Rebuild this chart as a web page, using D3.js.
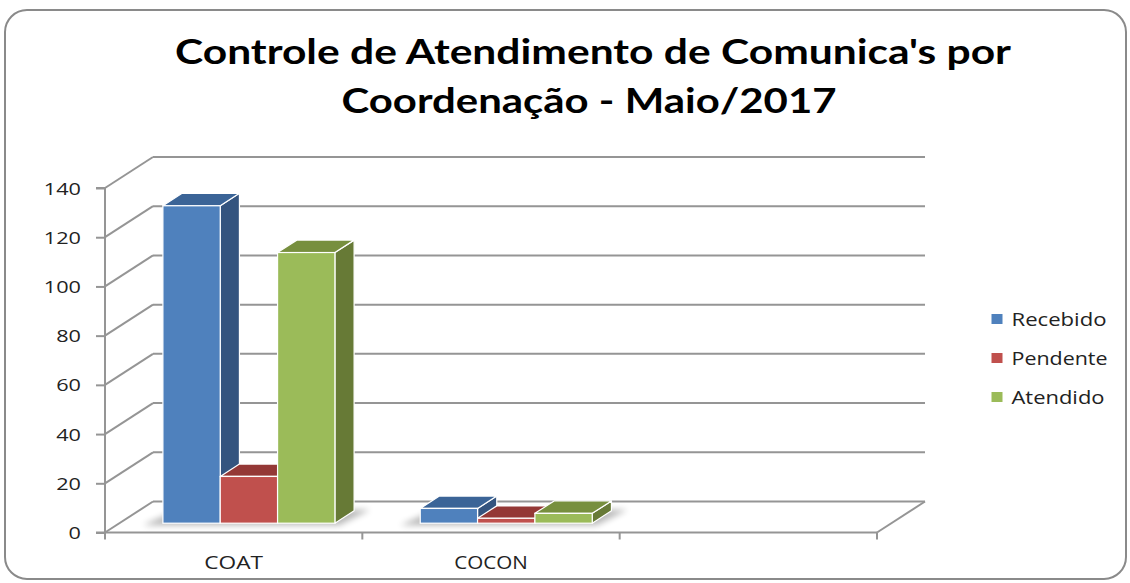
<!DOCTYPE html>
<html>
<head>
<meta charset="utf-8">
<script src="https://cdn.jsdelivr.net/npm/d3@7/dist/d3.min.js"></script>
<style>
  html, body { margin: 0; padding: 0; background: #fff; }
  svg { display: block; }
  text { font-family: "Open Sans", "Noto Sans", sans-serif; }
</style>
</head>
<body>
<svg id="chart" width="1130" height="583"></svg>
<script>
// ---- data ----
const titleLines = ["Controle de Atendimento de Comunica's por", "Coordenação - Maio/2017"];
const categories = ["COAT", "COCON", ""];
const seriesNames = ["Recebido", "Pendente", "Atendido"];
const recebido = [129, 6, null];
const pendente = [19, 2, null];
const atendido = [110, 4, null];
const yTicks = [0, 20, 40, 60, 80, 100, 120, 140];

// ---- styles ----
const faceColors = ["#4F81BD", "#C0504D", "#9BBB59"];
const topColors  = ["#3B6497", "#943836", "#778F3E"];
const sideColors = ["#34547F", "#8A3533", "#677A36"];
const gridColor = "#959595";

const seriesValues = [recebido, pendente, atendido];

const svg = d3.select("#chart");

// blur filter for floor shadows
const defs = svg.append("defs");
const flt = defs.append("filter").attr("id", "shadow").attr("x", "-20%").attr("y", "-50%").attr("width", "140%").attr("height", "200%");
flt.append("feGaussianBlur").attr("stdDeviation", 3);

// frame
svg.append("rect").attr("x", 5).attr("y", 10).attr("width", 1121).attr("height", 569)
  .attr("rx", 22).attr("ry", 22).attr("fill", "#fff").attr("stroke", "#8a8a8a").attr("stroke-width", 2);

// title
svg.append("text").attr("x", 593).attr("y", 64).attr("text-anchor", "middle")
  .attr("font-size", 34).attr("font-weight", 700).attr("fill", "#000")
  .style("font-family", "Lato, 'Open Sans', sans-serif")
  .attr("textLength", 836).attr("lengthAdjust", "spacingAndGlyphs").text(titleLines[0]);
svg.append("text").attr("x", 589).attr("y", 112.5).attr("text-anchor", "middle")
  .attr("font-size", 34).attr("font-weight", 700).attr("fill", "#000")
  .style("font-family", "Lato, 'Open Sans', sans-serif")
  .attr("textLength", 495).attr("lengthAdjust", "spacingAndGlyphs").text(titleLines[1]);

// ---- scales ----
const x0 = 105, x1 = 877;
const x = d3.scaleBand().domain(categories).range([x0, x1]).padding(0);
const y = d3.scaleLinear().domain([0, 140]).range([532.5, 188]);
const depth = { dx: 48, dy: -31 };
const f0 = 0.3, f1 = 0.7; // bar depth fraction range
const inner = d3.scaleBand().domain(seriesNames).range([43.5, 215.5]).padding(0);

// back wall gridlines
svg.append("g").selectAll("line").data(yTicks).join("line")
  .attr("x1", x0 + depth.dx).attr("x2", x1 + depth.dx)
  .attr("y1", d => y(d) + depth.dy).attr("y2", d => y(d) + depth.dy)
  .attr("stroke", gridColor).attr("stroke-width", 2);

// side wall diagonals
svg.append("g").selectAll("line").data(yTicks).join("line")
  .attr("x1", x0).attr("x2", x0 + depth.dx)
  .attr("y1", d => y(d)).attr("y2", d => y(d) + depth.dy)
  .attr("stroke", gridColor).attr("stroke-width", 2);

// floor right edge
svg.append("line").attr("x1", x1).attr("y1", y(0)).attr("x2", x1 + depth.dx).attr("y2", y(0) + depth.dy)
  .attr("stroke", gridColor).attr("stroke-width", 2);

// y axis
const yAxis = d3.axisLeft(y).tickValues(yTicks).tickSize(9).tickPadding(15);
const gy = svg.append("g").attr("transform", `translate(${x0},0)`).call(yAxis);
gy.select(".domain").attr("stroke", gridColor).attr("stroke-width", 2).attr("d", `M-9,${y(140)}H0V${y(0)}H-9`);
gy.selectAll(".tick line").attr("stroke", gridColor).attr("stroke-width", 2);
gy.selectAll(".tick text").attr("font-size", 17).attr("fill", "#222")
  .attr("dy", "0.36em")
  .attr("textLength", d => String(d).length * 12.4).attr("lengthAdjust", "spacingAndGlyphs");

// x axis line and ticks at band boundaries
const boundaries = categories.map(c => x(c)).concat([x1]);
svg.append("line").attr("x1", x0).attr("x2", x1).attr("y1", y(0)).attr("y2", y(0))
  .attr("stroke", gridColor).attr("stroke-width", 2);
svg.append("g").selectAll("line").data(boundaries).join("line")
  .attr("x1", d => d).attr("x2", d => d).attr("y1", y(0)).attr("y2", y(0) + 7)
  .attr("stroke", gridColor).attr("stroke-width", 2);

// category labels
svg.append("g").selectAll("text").data(categories.filter(c => c !== "")).join("text")
  .attr("x", d => x(d) + x.bandwidth() / 2).attr("y", 568.5)
  .attr("text-anchor", "middle").attr("font-size", 17.5).attr("fill", "#222")
  .attr("textLength", d => d.length * 14.7).attr("lengthAdjust", "spacingAndGlyphs")
  .text(d => d);

// ---- bars ----
const offX0 = f0 * depth.dx, offY0 = f0 * depth.dy;
const ddx = (f1 - f0) * depth.dx, ddy = (f1 - f0) * depth.dy;
const bw = inner.bandwidth();

// floor shadows under each group
categories.forEach((c, ci) => {
  const has = seriesValues.some(s => s[ci] != null);
  if (!has) return;
  const gx0 = x(c) + inner.range()[0] + offX0;
  const gx1 = x(c) + inner.range()[1] + offX0;
  const yb = y(0) + offY0;
  const pts = [[gx0 - 20, yb + 2], [gx1 + 4, yb + 2], [gx1 + ddx + 16, yb + ddy - 1], [gx0 + ddx - 4, yb + ddy - 1]];
  svg.append("polygon").attr("points", pts.map(p => p.join(",")).join(" "))
    .attr("fill", "#000").attr("opacity", 0.28).attr("filter", "url(#shadow)");
});

const barsG = svg.append("g");
categories.forEach((c, ci) => {
  seriesNames.forEach((s, si) => {
    const v = seriesValues[si][ci];
    if (v == null) return;
    const bx = x(c) + inner(s) + offX0;
    const top = y(v) + offY0;
    const bot = y(0) + offY0;
    const g = barsG.append("g");
    g.append("polygon")
      .attr("points", [[bx + bw, top], [bx + bw + ddx, top + ddy], [bx + bw + ddx, bot + ddy], [bx + bw, bot]].map(p => p.join(",")).join(" "))
      .attr("fill", sideColors[si]).attr("stroke", "#fff").attr("stroke-width", 1.2).attr("stroke-linejoin", "round");
    g.append("polygon")
      .attr("points", [[bx, top], [bx + bw, top], [bx + bw + ddx, top + ddy], [bx + ddx, top + ddy]].map(p => p.join(",")).join(" "))
      .attr("fill", topColors[si]).attr("stroke", "#fff").attr("stroke-width", 1.2).attr("stroke-linejoin", "round");
    g.append("rect").attr("x", bx).attr("y", top).attr("width", bw).attr("height", bot - top)
      .attr("fill", faceColors[si]).attr("stroke", "#fff").attr("stroke-width", 1.2);
  });
});

// ---- legend ----
const legend = svg.append("g");
const legendY = d3.scalePoint().domain(seriesNames).range([326, 404]);
const legendW = [95, 96, 93];
seriesNames.forEach((s, i) => {
  legend.append("rect").attr("x", 991.5).attr("y", legendY(s) - 12).attr("width", 11).attr("height", 10)
    .attr("fill", faceColors[i]);
  legend.append("text").attr("x", 1011.5).attr("y", legendY(s))
    .attr("font-size", 17.5).attr("fill", "#222")
    .attr("textLength", legendW[i]).attr("lengthAdjust", "spacingAndGlyphs")
    .text(s);
});
</script>
</body>
</html>
